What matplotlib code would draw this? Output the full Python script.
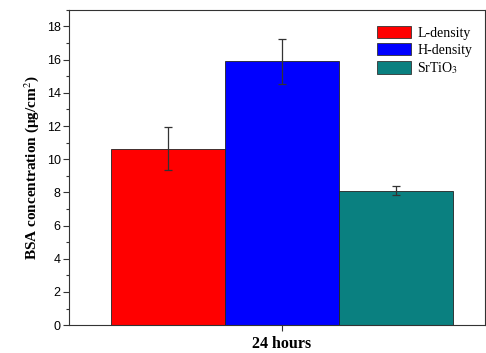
import matplotlib
matplotlib.use("Agg")
import matplotlib.pyplot as plt
from matplotlib.ticker import MultipleLocator

plt.rcParams["mathtext.fontset"] = "stix"

# values
groups = ["L-density", "H-density", "SrTiO$_3$"]
conc = [10.63, 15.91, 8.11]
err = [1.3, 1.35, 0.28]
colors = ["#ff0000", "#0000ff", "#0a8080"]
category = "24 hours"

fig = plt.figure(figsize=(4.86, 3.53), dpi=100)
ax = fig.add_axes([0.142, 0.079, 0.855, 0.893])

pos = [-1, 0, 1]
for p, v, e, c, g in zip(pos, conc, err, colors, groups):
    ax.bar(p, v, width=1.0, color=c, edgecolor="#222222", linewidth=0.6, label=g)
    ax.errorbar(p, v, yerr=e, fmt="none", ecolor="#333333", elinewidth=0.9,
                capsize=3, capthick=0.9)

ax.set_xlim(-1.87, 1.78)
ax.set_ylim(0, 19)
ax.set_xticks([0])
ax.set_xticklabels([category], fontfamily="Liberation Serif", fontweight="bold", fontsize=11.5)
ax.yaxis.set_major_locator(MultipleLocator(2))
ax.yaxis.set_minor_locator(MultipleLocator(1))
ax.tick_params(axis="both", which="major", direction="out", length=4, width=0.8, color="#333333")
ax.tick_params(axis="y", which="minor", direction="out", length=2.5, width=0.8, color="#333333")
ax.tick_params(axis="y", labelsize=9, pad=2)
for lab in ax.get_yticklabels():
    lab.set_fontfamily("Liberation Sans")
ax.tick_params(axis="x", pad=4)
for s in ax.spines.values():
    s.set_color("#333333")
    s.set_linewidth(0.8)

ax.set_ylabel("BSA concentration (\u03bcg/cm$^2$)", fontfamily="Liberation Serif",
              fontweight="bold", fontsize=11, labelpad=4)

leg = ax.legend(loc="upper right", bbox_to_anchor=(1.0, 0.99), frameon=False,
                prop={"family": "Liberation Serif", "size": 10},
                handlelength=2.5, handleheight=1.0, handletextpad=0.4, labelspacing=0.25)
for h in leg.legend_handles:
    h.set_edgecolor("#333333")

fig.savefig("out.png", dpi=100)
